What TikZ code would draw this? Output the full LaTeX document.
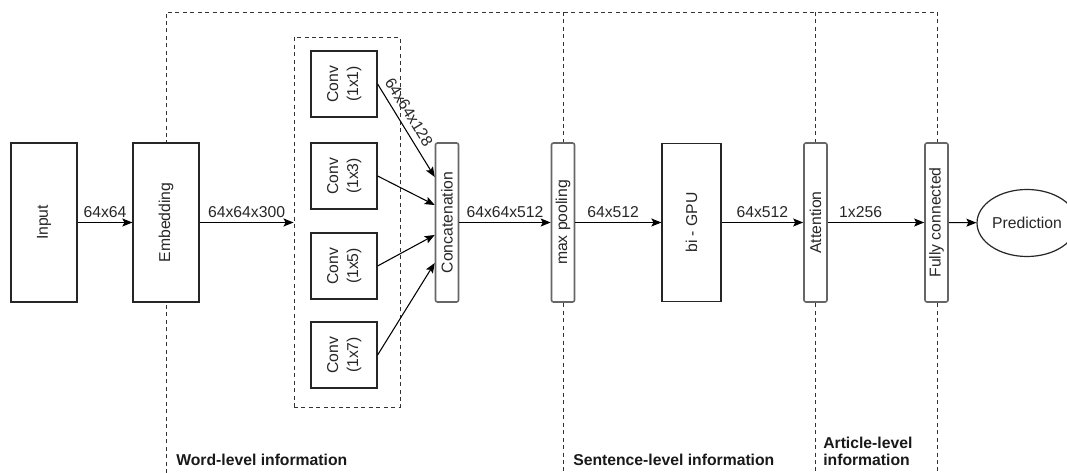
\documentclass[tikz,border=0pt]{standalone}
\usepackage{fontspec}
\setmainfont{Liberation Sans}
\usetikzlibrary{arrows.meta,calc,shapes.geometric}
\begin{document}
\begin{tikzpicture}[x=0.75pt,y=-0.75pt,
  font=\fontsize{11.8}{15}\selectfont,
  box/.style={draw=black!85, line width=0.9pt, fill=white, inner sep=0pt, text=black!85},
  bigbox/.style={box, minimum width=49.5pt, minimum height=119.25pt},
  convbox/.style={box, minimum width=49.5pt, minimum height=49.5pt},
  thinbox/.style={box, draw=black!60, line width=1.2pt, rounded corners=1.5pt, minimum width=17.25pt, minimum height=119.25pt},
  arr/.style={-{Stealth[length=7.5pt,width=6pt,inset=1.5pt]}, line width=0.8pt, black},
  region/.style={draw=black!80, dash pattern=on 3pt off 2.6pt, line width=0.7pt},
  lbl/.style={text=black!85, above, inner sep=3.5pt},
  title/.style={font=\fontsize{11.8}{12.75}\selectfont\bfseries, text=black!90, anchor=west, align=left, inner sep=0pt}]
\useasboundingbox (0,0) rectangle (1067,473);
\clip (0,0) rectangle (1067,473);

% level regions
\draw[region] (166,473) -- (166,12) -- (937,12) -- (937,473);
\draw[region] (563,12) -- (563,473);
\draw[region] (815,12) -- (815,473);
\node[region, minimum width=79.5pt, minimum height=277.5pt] (grp) at (347,222) {};

% nodes
\node[bigbox] (inp) at (44,222.5) {\rotatebox{90}{Input}};
\node[bigbox] (emb) at (166,222.5) {\rotatebox{90}{Embedding}};
\node[convbox] (c1) at (344,84) {\rotatebox{90}{\begin{tabular}{@{}c@{}}Conv\\(1x1)\end{tabular}}};
\node[convbox] (c3) at (344,176) {\rotatebox{90}{\begin{tabular}{@{}c@{}}Conv\\(1x3)\end{tabular}}};
\node[convbox] (c5) at (344,266) {\rotatebox{90}{\begin{tabular}{@{}c@{}}Conv\\(1x5)\end{tabular}}};
\node[convbox] (c7) at (344,355) {\rotatebox{90}{\begin{tabular}{@{}c@{}}Conv\\(1x7)\end{tabular}}};
\node[thinbox] (cat) at (447,222.5) {\rotatebox{90}{Concatenation}};
\node[thinbox] (mp) at (563,222.5) {\rotatebox{90}{max pooling}};
\node[box, minimum width=44.25pt, minimum height=118.5pt] (gru) at (691.5,222.5) {\rotatebox{90}{bi - GPU}};
\node[thinbox] (att) at (815.5,222.5) {\rotatebox{90}{Attention}};
\node[thinbox] (fc) at (936.5,222.5) {\rotatebox{90}{Fully connected}};
\node[box, ellipse, minimum width=75pt, minimum height=50.25pt] (pred) at (1027,223) {Prediction};

% connectors
\draw[arr] (inp) -- node[lbl]{64x64} (emb);
\draw[arr] (emb.east) -- node[lbl]{64x64x300} (emb.east -| grp.west);
\draw[arr] (c1.east) -- node[lbl, sloped, pos=0.37, inner sep=4.5pt]{64x64x128} ($(cat.west)+(0,-45.5)$);
\draw[arr] (c3.east) -- ($(cat.west)+(0,-17.5)$);
\draw[arr] (c5.east) -- ($(cat.west)+(0,12.5)$);
\draw[arr] (c7.east) -- ($(cat.west)+(0,40.5)$);
\draw[arr] (cat) -- node[lbl]{64x64x512} (mp);
\draw[arr] (mp) -- node[lbl,pos=0.44]{64x512} (gru);
\draw[arr] (gru) -- node[lbl]{64x512} (att);
\draw[arr] (att) -- node[lbl,pos=0.34]{1x256} (fc);
\draw[arr] (fc) -- (pred);

% level titles
\node[title] (tw) at (176,459.5) {Word-level information};
\node[title] (ts) at (573,459.5) {Sentence-level information};
\node[title] (ta) at (823,451.5) {Article-level\\information};
\end{tikzpicture}
\end{document}
